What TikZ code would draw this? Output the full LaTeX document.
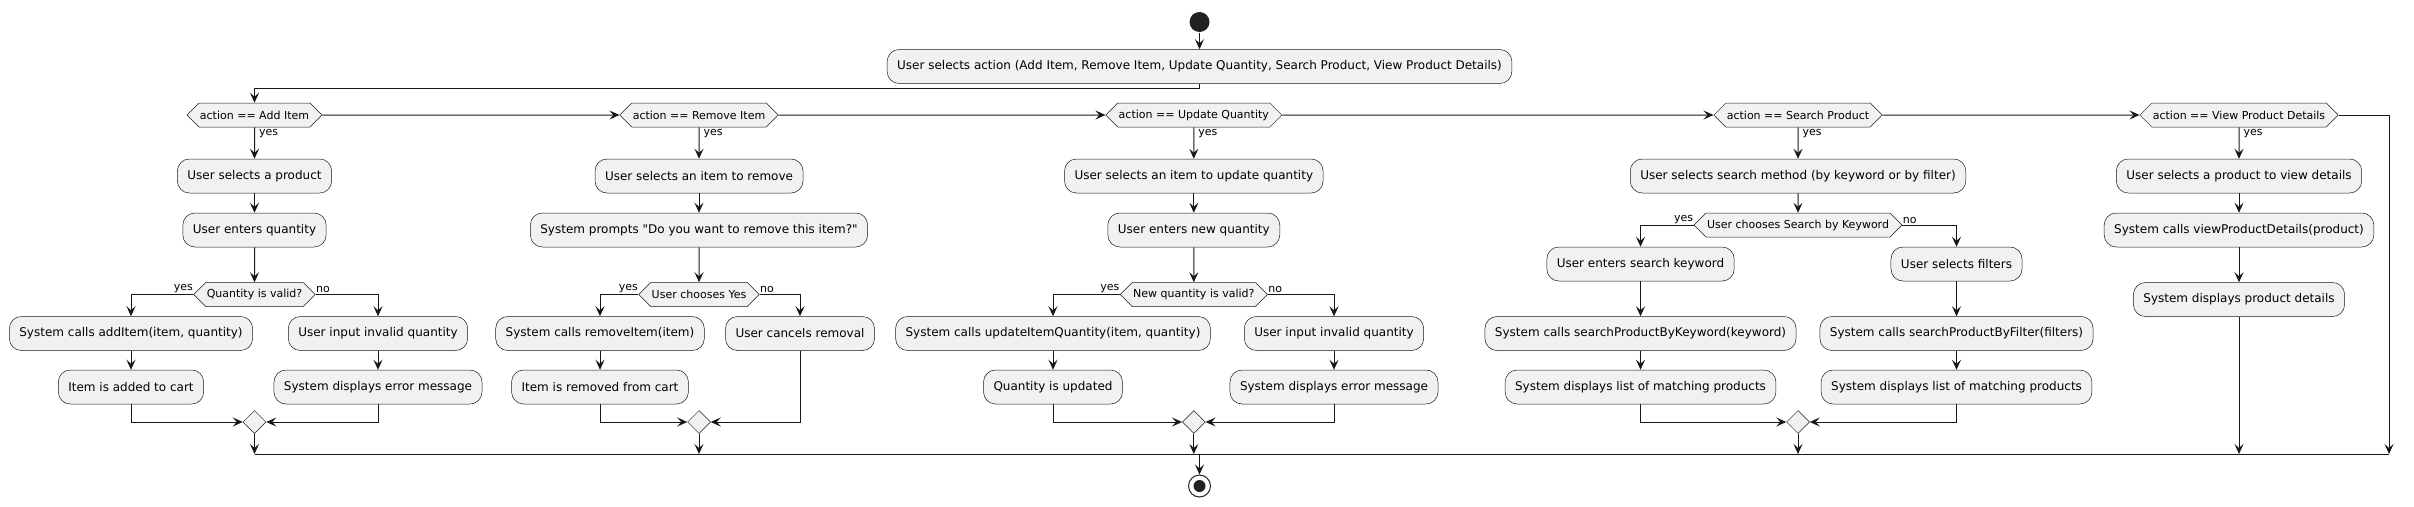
\documentclass[tikz,border=0pt]{standalone}
\usepackage{fontspec}
\setmainfont{DejaVu Sans}[Ligatures=TeXOff]
\usetikzlibrary{shapes.geometric,shapes.symbols,arrows.meta}
\definecolor{boxfill}{HTML}{F1F1F1}
\definecolor{ink}{HTML}{181818}
\definecolor{dot}{HTML}{222222}

\begin{document}
\begin{tikzpicture}[x=1pt,y=-1pt,line width=1pt,color=ink,->,
  >={Stealth[length=10pt,width=9pt,inset=4pt]},
  act/.style={draw=ink,fill=boxfill,line width=0.5pt,rounded corners=12pt,
    minimum height=34pt,inner xsep=10pt,text=black,font=\fontsize{12}{14}\selectfont},
  dec/.style={signal,signal to=west and east,signal pointer angle=90,draw=ink,
    fill=boxfill,line width=0.5pt,minimum height=24pt,inner xsep=1pt,inner ysep=0pt,
    text=black,font=\fontsize{11}{13}\selectfont},
  merge/.style={diamond,draw=ink,fill=boxfill,line width=0.5pt,
    minimum width=23pt,minimum height=23pt,inner sep=0pt},
  lbl/.style={inner sep=0pt,text=black,font=\fontsize{11}{13}\selectfont},
  begdot/.style={circle,fill=dot,minimum size=20pt,inner sep=0pt},
  enddot/.style={circle,draw=dot,line width=1pt,minimum size=22pt,inner sep=0pt,
    path picture={\fill[dot] (path picture bounding box.center) circle (6pt);}}]

  \useasboundingbox (0,0) rectangle (2414,506);

  \node[begdot] (start) at (1199.5,22) {};
  \node[act] (sel) at (1199.5,66.5) {User selects action (Add Item, Remove Item, Update Quantity, Search Product, View Product Details)};
  \coordinate (top) at (1199.5,88);

  % add item
  \node[dec] (add) at (254.5,115) {action == Add Item};
  \node[act] (add1) at (254.5,176) {User selects a product};
  \node[act] (add2) at (254.5,230) {User enters quantity};
  \node[dec] (addq) at (254.5,294.5) {Quantity is valid?};
  \node[act] (add3) at (131,333.5) {System calls addItem(item, quantity)};
  \node[act] (add4) at (131,387) {Item is added to cart};
  \node[act] (add5) at (378,333.5) {User input invalid quantity};
  \node[act] (add6) at (378,387) {System displays error message};
  \node[merge] (addm) at (254.5,422) {};

  % remove item
  \node[dec] (rem) at (699,115) {action == Remove Item};
  \node[act] (rem1) at (699,176) {User selects an item to remove};
  \node[act] (rem2) at (699,230) {System prompts "Do you want to remove this item?"};
  \node[dec] (remq) at (699,294.5) {User chooses Yes};
  \node[act] (rem3) at (600,333.5) {System calls removeItem(item)};
  \node[act] (rem4) at (600,387) {Item is removed from cart};
  \node[act] (rem5) at (800,333.5) {User cancels removal};
  \node[merge] (remm) at (699,422) {};

  % update quantity
  \node[dec] (upd) at (1193.8,115) {action == Update Quantity};
  \node[act] (upd1) at (1193.8,176) {User selects an item to update quantity};
  \node[act] (upd2) at (1193.8,230) {User enters new quantity};
  \node[dec] (updq) at (1193.8,294.5) {New quantity is valid?};
  \node[act] (upd3) at (1053,333.5) {System calls updateItemQuantity(item, quantity)};
  \node[act] (upd4) at (1053,387) {Quantity is updated};
  \node[act] (upd5) at (1334,333.5) {User input invalid quantity};
  \node[act] (upd6) at (1334,387) {System displays error message};
  \node[merge] (updm) at (1193.8,422) {};

  % search product
  \node[dec] (srch) at (1798,115) {action == Search Product};
  \node[act] (srch1) at (1798,176) {User selects search method (by keyword or by filter)};
  \node[dec] (srchq) at (1798,225) {User chooses Search by Keyword};
  \node[act] (kw1) at (1640.5,264) {User enters search keyword};
  \node[act] (kw2) at (1640.5,333.5) {System calls searchProductByKeyword(keyword)};
  \node[act] (kw3) at (1640.5,387) {System displays list of matching products};
  \node[act] (fl1) at (1956.5,264) {User selects filters};
  \node[act] (fl2) at (1956.5,333.5) {System calls searchProductByFilter(filters)};
  \node[act] (fl3) at (1956.5,387) {System displays list of matching products};
  \node[merge] (srchm) at (1798,422) {};

  % view product details
  \node[dec] (view) at (2239,115) {action == View Product Details};
  \node[act] (view1) at (2239,176) {User selects a product to view details};
  \node[act] (view2) at (2239,230) {System calls viewProductDetails(product)};
  \node[act] (view3) at (2239,299.5) {System displays product details};

  \coordinate (j1) at (254.5,454);
  \coordinate (j2) at (699,454);
  \coordinate (j3) at (1193.8,454);
  \coordinate (j4) at (1798,454);
  \coordinate (j5) at (2239,454);
  \coordinate (j6) at (2389,454);
  \coordinate (jc) at (1199.5,454);
  \node[enddot] (stop) at (1199.5,486) {};

  \path (start) edge (sel);
  \draw (sel.south) -- (top) -| (add.north);
  \path (add) edge (rem) (rem) edge (upd) (upd) edge (srch) (srch) edge (view);
  \draw (view.east) -| (j6);

  \path (add) edge node[lbl,pos=0.27,anchor=base west,xshift=4pt] (ya) {yes} (add1)
        (add1) edge (add2) (add2) edge (addq)
        (add3) edge (add4) (add5) edge (add6);
  \draw (addq.west) -| node[lbl,pos=0,anchor=south east,inner ysep=1pt] (ya2) {yes} (add3.north);
  \draw (addq.east) -| node[lbl,pos=0,anchor=south west,inner ysep=1pt] (na2) {no} (add5.north);
  \draw (add4.south) |- (addm.west);
  \draw (add6.south) |- (addm.east);
  \draw (addm.south) -- (j1);

  \path (rem) edge node[lbl,pos=0.27,anchor=base west,xshift=4pt] (yr) {yes} (rem1)
        (rem1) edge (rem2) (rem2) edge (remq) (rem3) edge (rem4);
  \draw (remq.west) -| node[lbl,pos=0,anchor=south east,inner ysep=1pt] (yr2) {yes} (rem3.north);
  \draw (remq.east) -| node[lbl,pos=0,anchor=south west,inner ysep=1pt] (nr2) {no} (rem5.north);
  \draw (rem4.south) |- (remm.west);
  \draw (rem5.south) |- (remm.east);
  \draw (remm.south) -- (j2);

  \path (upd) edge node[lbl,pos=0.27,anchor=base west,xshift=4pt] (yu) {yes} (upd1)
        (upd1) edge (upd2) (upd2) edge (updq)
        (upd3) edge (upd4) (upd5) edge (upd6);
  \draw (updq.west) -| node[lbl,pos=0,anchor=south east,inner ysep=1pt] (yu2) {yes} (upd3.north);
  \draw (updq.east) -| node[lbl,pos=0,anchor=south west,inner ysep=1pt] (nu2) {no} (upd5.north);
  \draw (upd4.south) |- (updm.west);
  \draw (upd6.south) |- (updm.east);
  \draw (updm.south) -- (j3);

  \path (srch) edge node[lbl,pos=0.27,anchor=base west,xshift=4pt] (ys) {yes} (srch1)
        (srch1) edge (srchq)
        (kw1) edge (kw2) (kw2) edge (kw3)
        (fl1) edge (fl2) (fl2) edge (fl3);
  \draw (srchq.west) -| node[lbl,pos=0,anchor=south east,inner ysep=1pt] (ys2) {yes} (kw1.north);
  \draw (srchq.east) -| node[lbl,pos=0,anchor=south west,inner ysep=1pt] (ns2) {no} (fl1.north);
  \draw (kw3.south) |- (srchm.west);
  \draw (fl3.south) |- (srchm.east);
  \draw (srchm.south) -- (j4);

  \path (view) edge node[lbl,pos=0.27,anchor=base west,xshift=4pt] (yv) {yes} (view1)
        (view1) edge (view2) (view2) edge (view3);
  \draw (view3.south) -- (j5);

  \draw[-] (j1) -- (j6);
  \draw (jc) -- (stop);
\end{tikzpicture}
\end{document}
